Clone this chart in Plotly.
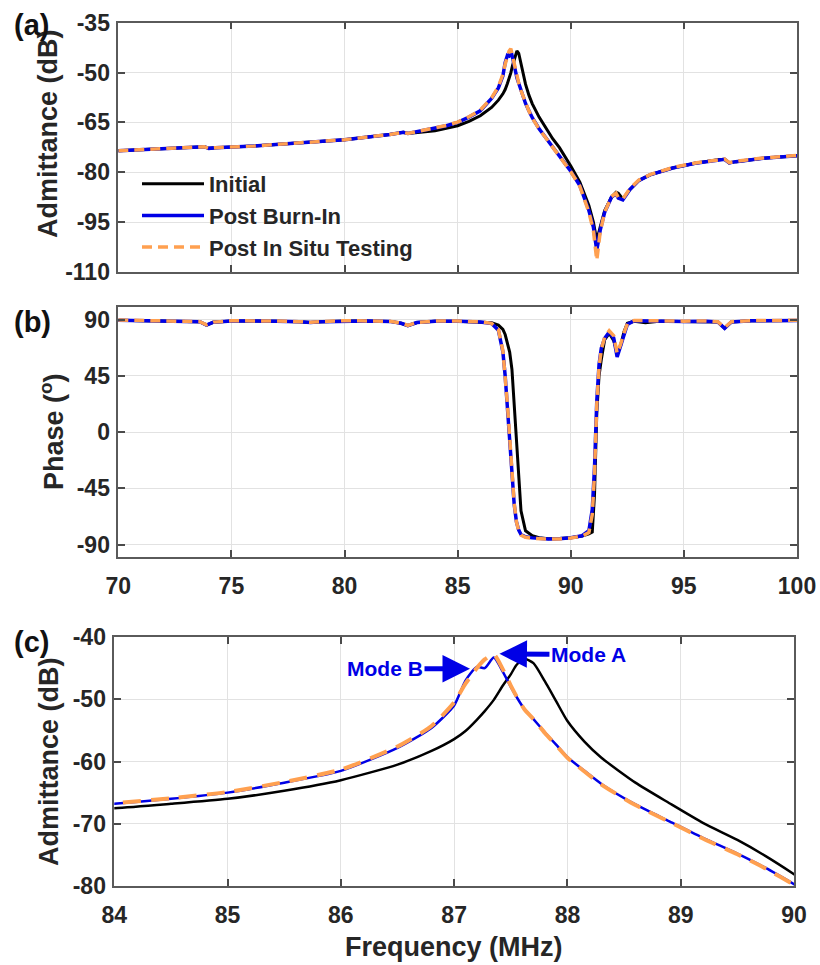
import plotly.graph_objects as go

# ---------------- data ----------------
freq_adm = [70, 72, 73.8, 74.0, 74.3, 76, 78, 80, 82, 82.6, 82.8, 84, 84.5, 85, 85.5,
            86, 86.5, 86.8, 87.0, 87.1, 87.2, 87.27, 87.35, 87.43, 87.5, 87.55, 87.62,
            87.7, 87.8, 87.9, 88.0, 88.15, 88.3, 88.6, 88.9, 89.2, 89.5, 89.75, 90.0,
            90.4, 90.8, 91.0, 91.15, 91.3, 91.5, 91.8, 92.0, 92.1, 92.3, 92.6, 93.0,
            93.5, 94.5, 95.5, 96.5, 96.8, 97.0, 97.3, 98.5, 100]

adm_initial = [-73.5, -72.9, -72.3, -72.8, -72.6, -72.1, -71.2, -70.2, -68.6, -68.0, -68.3,
               -67.5, -66.8, -66.0, -64.7, -63.0, -60.5, -58.3, -56.4, -55.1, -53.3, -51.9,
               -50.1, -47.8, -46.0, -44.5, -43.5, -44.2, -47.1, -50.3, -53.5, -56.8, -59.4,
               -63.4, -66.7, -69.9, -72.6, -75.2, -78.1, -83.0, -90.0, -95.0, -100.5, -96.5,
               -91.5, -87.5, -86.0, -86.3, -88.0, -85.3, -82.5, -80.8, -78.7, -77.3, -76.2,
               -76.1, -77.2, -76.8, -75.8, -75.0]

adm_burnin = [-73.5, -72.9, -72.3, -72.8, -72.6, -72.1, -71.2, -70.2, -68.6, -68.0, -68.3,
              -66.8, -66.0, -65.0, -63.4, -61.5, -57.8, -54.6, -51.0, -47.0, -44.8, -45.0,
              -43.3, -45.6, -48.0, -49.6, -51.6, -53.2, -55.3, -57.3, -59.3, -61.5, -63.6,
              -66.9, -69.6, -72.3, -74.8, -77.1, -79.7, -84.0, -91.5, -96.5, -103.5, -97.5,
              -92.0, -87.5, -86.5, -87.8, -88.3, -85.3, -82.5, -80.8, -78.7, -77.3, -76.2,
              -76.1, -77.2, -76.8, -75.8, -75.0]

adm_insitu = [-73.5, -72.9, -72.3, -72.8, -72.6, -72.1, -71.2, -70.2, -68.6, -68.0, -68.3,
              -66.7, -65.9, -64.9, -63.3, -61.3, -57.6, -54.3, -50.5, -47.5, -45.0, -43.6,
              -42.8, -45.2, -47.8, -49.5, -51.6, -53.2, -55.4, -57.4, -59.4, -61.6, -63.7,
              -67.0, -69.7, -72.4, -74.9, -77.2, -79.8, -84.2, -92.0, -97.5, -106.5, -98.0,
              -92.0, -87.3, -86.3, -87.6, -88.0, -85.0, -82.4, -80.7, -78.6, -77.2, -76.1,
              -76.0, -77.1, -76.7, -75.7, -74.9]

freq_ph = [70, 71, 72, 73, 73.6, 73.9, 74.2, 75, 76, 77, 78, 78.5, 79, 80, 81, 82, 82.5,
           82.8, 83.2, 84, 85, 86, 86.5, 86.8, 87.0, 87.1, 87.2, 87.3, 87.4, 87.5, 87.6,
           87.7, 87.8, 88.0, 88.3, 88.6, 89.0, 89.5, 90.0, 90.5, 90.8, 90.95, 91.05, 91.15,
           91.25, 91.35, 91.5, 91.7, 91.9, 92.05, 92.2, 92.35, 92.5, 92.8, 93.3, 94, 95,
           96, 96.5, 96.8, 97.1, 98, 99, 100]

ph_initial = [89.5, 89.2, 88.8, 88.7, 88.2, 85.5, 87.8, 88.9, 89.0, 88.7, 88.2, 87.6, 88.3,
              88.9, 88.8, 88.5, 87.0, 85.0, 87.6, 88.6, 88.7, 88.3, 87.5, 85.5, 82.0, 78.0,
              72.0, 64.0, 50.0, 22.5, -10.0, -40.0, -63.0, -79.0, -83.0, -84.5, -85.3, -85.2,
              -84.6, -83.2, -81.5, -80.0, -50.0, 15.0, 45.0, 58.0, 74.0, 79.0, 73.0, 64.0,
              69.0, 80.0, 87.0, 88.5, 87.5, 88.7, 88.5, 88.6, 88.0, 83.0, 88.0, 89.0, 89.1,
              89.3]

ph_burnin = [89.5, 89.2, 88.8, 88.7, 88.2, 85.5, 87.8, 88.9, 89.0, 88.7, 88.2, 87.6, 88.3,
             88.9, 88.8, 88.5, 87.0, 85.0, 87.6, 88.6, 88.7, 88.0, 86.8, 81.5, 64.0, 45.0,
             21.0, -5.0, -31.0, -58.0, -72.0, -78.5, -82.0, -83.8, -84.7, -85.2, -85.5,
             -85.3, -84.6, -83.0, -79.0, -62.0, -28.0, 25.0, 54.0, 67.0, 75.0, 80.0, 75.0,
             60.0, 68.0, 78.0, 86.0, 89.0, 88.8, 88.7, 88.5, 88.6, 88.0, 83.0, 88.0, 89.0,
             89.1, 89.3]

ph_insitu = [89.6, 89.3, 88.9, 88.8, 88.3, 85.8, 87.9, 89.0, 89.1, 88.8, 88.3, 87.8, 88.4,
             89.0, 88.9, 88.6, 87.2, 85.3, 87.7, 88.7, 88.8, 88.1, 86.9, 82.0, 65.0, 46.0,
             22.0, -4.0, -30.0, -57.0, -72.0, -79.0, -82.5, -84.2, -85.0, -85.5, -85.8,
             -85.5, -84.8, -83.3, -80.5, -66.0, -33.0, 22.0, 52.0, 66.0, 76.0, 81.0, 77.0,
             63.0, 70.0, 79.0, 86.5, 89.2, 89.0, 88.9, 88.7, 88.8, 88.2, 83.5, 88.2, 89.1,
             89.2, 89.4]

names = ["Initial", "Post Burn-In", "Post In Situ Testing"]
colors = ["#000000", "#0000E6", "#FFA050"]

x_ticks_full = [70, 75, 80, 85, 90, 95, 100]
y_ticks_a = [-110, -95, -80, -65, -50, -35]
y_labels_a = ["-110", "-95", "-80", "-65", "-50", "-35"]
y_ticks_b = [-90, -45, 0, 45, 90]
y_labels_b = ["-90", "-45", "0", "45", "90"]
x_ticks_c = [84, 85, 86, 87, 88, 89, 90]
y_ticks_c = [-80, -70, -60, -50, -40]
y_labels_c = ["-80", "-70", "-60", "-50", "-40"]

# ---------------- figure ----------------
W, H = 820, 965
FONT = "Liberation Sans, Arial, sans-serif"
TXT = "#262626"

fig = go.Figure()

adm_series = [adm_initial, adm_burnin, adm_insitu]
ph_series = [ph_initial, ph_burnin, ph_insitu]
widths_ab = [3, 3.5, 3.5]
dash_ab = ["solid", "solid", "10px,6px"]
widths_c = [2.5, 2.5, 4]
dash_c = ["solid", "solid", "18px,10px"]

for i in range(3):
    fig.add_trace(go.Scatter(x=freq_adm, y=adm_series[i], mode="lines", name=names[i],
                             line=dict(color=colors[i], width=widths_ab[i], dash=dash_ab[i]),
                             xaxis="x", yaxis="y", showlegend=True))
for i in range(3):
    fig.add_trace(go.Scatter(x=freq_ph, y=ph_series[i], mode="lines", name=names[i],
                             line=dict(color=colors[i], width=widths_ab[i], dash=dash_ab[i]),
                             xaxis="x2", yaxis="y2", showlegend=False))
for i in range(3):
    fig.add_trace(go.Scatter(x=freq_adm, y=adm_series[i], mode="lines", name=names[i],
                             line=dict(color=colors[i], width=widths_c[i], dash=dash_c[i],
                                       shape="spline", smoothing=0.6),
                             xaxis="x3", yaxis="y3", showlegend=False))

ax_common = dict(showline=True, linecolor="#5a5a5a", linewidth=1.5, mirror="ticks",
                 ticks="inside", ticklen=7, tickwidth=1.5, tickcolor="#4a4a4a",
                 showgrid=True, gridcolor="#e2e2e2", gridwidth=1, zeroline=False,
                 automargin=False,
                 tickfont=dict(family=FONT, size=23, color=TXT, weight="bold"))

dom_ab = [118.3 / W, 797 / W]
dom_c = [114.3 / W, 794 / W]

fig.update_layout(
    width=W, height=H, autosize=False,
    margin=dict(l=0, r=0, t=0, b=0),
    paper_bgcolor="white", plot_bgcolor="white",
    font=dict(family=FONT, color=TXT, weight="bold"),
    xaxis=dict(ax_common, domain=dom_ab, anchor="y", range=[70, 100],
               tickvals=x_ticks_full, showticklabels=False),
    yaxis=dict(ax_common, domain=[1 - 272 / H, 1 - 22.7 / H], anchor="x",
               range=[-110, -35], tickvals=y_ticks_a, ticktext=y_labels_a,
               ticklabelstandoff=2),
    xaxis2=dict(ax_common, domain=dom_ab, anchor="y2", range=[70, 100],
                tickvals=x_ticks_full, ticklabelstandoff=8),
    yaxis2=dict(ax_common, domain=[1 - 557 / H, 1 - 307 / H], anchor="x2",
                range=[-100, 100], tickvals=y_ticks_b, ticktext=y_labels_b,
                ticklabelstandoff=2),
    xaxis3=dict(ax_common, domain=dom_c, anchor="y3", range=[84, 90],
                tickvals=x_ticks_c, ticklabelstandoff=8),
    yaxis3=dict(ax_common, domain=[1 - 886 / H, 1 - 637 / H], anchor="x3",
                range=[-80, -40], tickvals=y_ticks_c, ticktext=y_labels_c,
                ticklabelstandoff=2),
    legend=dict(x=137 / W, y=1 - 163 / H, xanchor="left", yanchor="top",
                bgcolor="rgba(0,0,0,0)", borderwidth=0, itemwidth=62,
                font=dict(family=FONT, size=22, color=TXT, weight="bold"),
                tracegroupgap=0),
)

# axis titles (placed as text annotations for exact positioning)
title_font = dict(family=FONT, size=27, color=TXT, weight="bold")
for txt, xx, yy in [("Admittance (dB)", 48, 134), ("Phase (<sup>o</sup>)", 52, 432),
                    ("Admittance (dB)", 49, 762)]:
    fig.add_annotation(text=txt, xref="paper", yref="paper", x=xx / W, y=1 - yy / H,
                       xanchor="center", yanchor="middle", textangle=-90,
                       showarrow=False, font=title_font)
fig.add_annotation(text="Frequency (MHz)", xref="paper", yref="paper", x=454 / W,
                   y=1 - 947 / H, xanchor="center", yanchor="middle", showarrow=False,
                   font=title_font)

# panel labels
for lab, yy in [("(a)", 25), ("(b)", 322), ("(c)", 642)]:
    fig.add_annotation(text=lab, xref="paper", yref="paper", x=12 / W, y=1 - yy / H,
                       xanchor="left", yanchor="middle", showarrow=False,
                       font=dict(family=FONT, size=29, color="#111111", weight="bold"))

# mode annotations in (c)
fig.add_annotation(text="Mode A", x=87.40, y=-42.7, xref="x3", yref="y3",
                   ax=89, ay=1, showarrow=True, arrowhead=2, arrowsize=1.1,
                   arrowwidth=5, arrowcolor="#0000E6",
                   font=dict(family=FONT, size=21, color="#0000E6", weight="bold"))
fig.add_annotation(text="Mode B", x=87.14, y=-45.1, xref="x3", yref="y3",
                   ax=-85, ay=0, showarrow=True, arrowhead=2, arrowsize=1.1,
                   arrowwidth=5, arrowcolor="#0000E6",
                   font=dict(family=FONT, size=21, color="#0000E6", weight="bold"))

fig.write_html("out.html", config={"displayModeBar": False},
               post_script="document.body.style.margin='0';document.body.style.overflow='hidden';")
